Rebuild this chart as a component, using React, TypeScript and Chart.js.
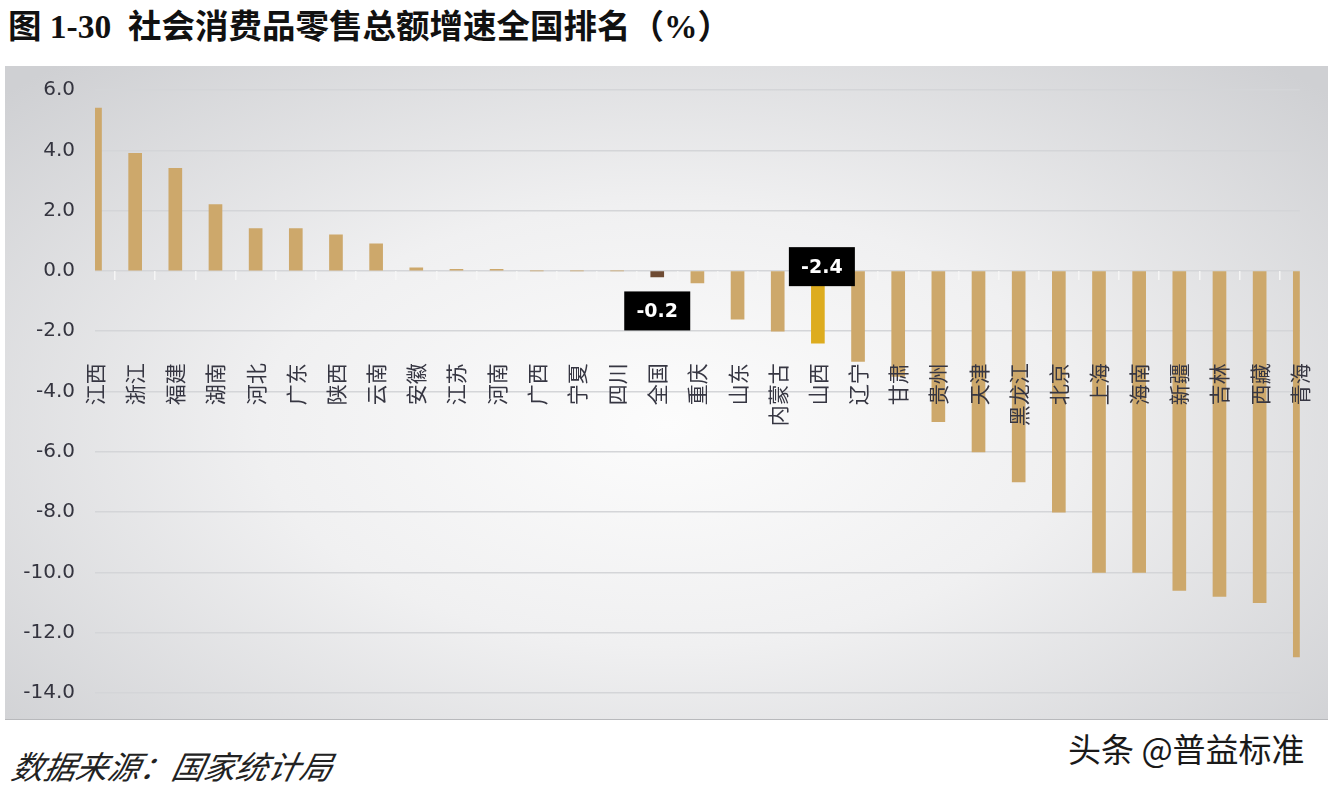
import React, { useEffect, useRef } from 'react';
import { Chart, registerables } from 'chart.js';

Chart.register(...registerables);

// ---- Data ----
const categories: string[] = [
  '江西', '浙江', '福建', '湖南', '河北', '广东', '陕西', '云南', '安徽', '江苏',
  '河南', '广西', '宁夏', '四川', '全国', '重庆', '山东', '内蒙古', '山西', '辽宁',
  '甘肃', '贵州', '天津', '黑龙江', '北京', '上海', '海南', '新疆', '吉林', '西藏', '青海',
];
const growth: number[] = [
  5.4, 3.9, 3.4, 2.2, 1.4, 1.4, 1.2, 0.9, 0.1, 0.05,
  0.05, 0, 0, 0, -0.2, -0.4, -1.6, -2.0, -2.4, -3.0,
  -3.5, -5.0, -6.0, -7.0, -8.0, -10.0, -10.0, -10.6, -10.8, -11.0, -12.8,
];
const labeledCategories: string[] = ['全国', '山西'];
const labelPlacement: string[] = ['below', 'above'];
const yMin = -14;
const yMax = 6;
const yStep = 2;

const BAR = '#CDA86B';
const NATIONAL = '#6E4B33';
const SHANXI = '#DDAC1F';

const valueLabelPlugin = {
  id: 'valueLabels',
  afterDraw(chart: any) {
    const meta = chart.getDatasetMeta(0);
    const ctx = chart.ctx;
    labeledCategories.forEach((name, k) => {
      const i = categories.indexOf(name);
      const el: any = meta.data[i];
      if (!el) return;
      const text = growth[i].toFixed(1);
      const w = 66;
      const h = 39;
      let cx = el.x;
      let cy: number;
      if (labelPlacement[k] === 'below') {
        cy = el.y + 34;
      } else {
        cx = el.x + 4;
        cy = el.base - 5;
      }
      ctx.save();
      ctx.fillStyle = '#000000';
      ctx.fillRect(cx - w / 2, cy - h / 2, w, h);
      ctx.fillStyle = '#ffffff';
      ctx.font = 'bold 19px "DejaVu Sans", sans-serif';
      ctx.textAlign = 'center';
      ctx.textBaseline = 'middle';
      ctx.fillText(text, cx, cy + 1);
      ctx.restore();
    });
  },
};

export default function App() {
  const ref = useRef<HTMLCanvasElement>(null);

  useEffect(() => {
    if (!ref.current) return;
    const colors = categories.map((c) => (c === '全国' ? NATIONAL : c === '山西' ? SHANXI : BAR));
    const chart = new Chart(ref.current, {
      type: 'bar',
      data: {
        labels: categories,
        datasets: [
          {
            data: growth,
            backgroundColor: colors,
            borderWidth: 0,
            barThickness: 13,
          },
        ],
      },
      plugins: [valueLabelPlugin],
      options: {
        responsive: false,
        animation: false,
        layout: { padding: { left: 10, right: 15, top: 24, bottom: 27 } },
        plugins: {
          legend: { display: false },
          tooltip: { enabled: false },
          title: { display: false },
        },
        scales: {
          y: {
            min: yMin,
            max: yMax,
            afterFit: (s: any) => {
              s.width = 80;
            },
            ticks: {
              stepSize: yStep,
              padding: 0,
              color: '#34343f',
              font: { family: '"DejaVu Sans", sans-serif', size: 20 },
              callback: (v: any) => Number(v).toFixed(1),
            },
            grid: {
              color: '#d4d5d8',
              lineWidth: 1.5,
              drawTicks: true,
              tickLength: 20,
              tickColor: 'rgba(0,0,0,0)',
            },
            border: { display: false },
          },
          x: {
            type: 'category',
            offset: false,
            position: { y: -2.7 } as any,
            grid: { display: false },
            border: { display: false },
            ticks: {
              z: 2,
              autoSkip: false,
              minRotation: 90,
              maxRotation: 90,
              padding: 3,
              color: '#363642',
              font: { family: '"Noto Sans CJK SC", sans-serif', size: 21 },
            },
          },
          x2: {
            type: 'category',
            offset: false,
            position: { y: 0 } as any,
            ticks: { display: false },
            grid: {
              z: 1,
              drawOnChartArea: false,
              drawTicks: true,
              tickLength: 9,
              color: 'rgba(245,245,245,0.95)',
              lineWidth: 1.5,
            },
            border: { display: false },
          },
        },
      } as any,
    });
    return () => chart.destroy();
  }, []);

  return (
    <div
      style={{
        position: 'fixed',
        left: 0,
        top: 0,
        width: 1336,
        height: 788,
        background: '#ffffff',
        overflow: 'hidden',
      }}
    >
      <div
        style={{
          position: 'absolute',
          left: 8,
          top: -1,
          font: 'bold 33.5px "Liberation Serif", "Noto Sans CJK SC", serif',
          color: '#111111',
          whiteSpace: 'pre',
        }}
      >
        {'图 1-30  社会消费品零售总额增速全国排名（%）'}
      </div>
      <div
        style={{
          position: 'absolute',
          left: 5,
          top: 66,
          width: 1323,
          height: 654,
          background:
            'radial-gradient(ellipse 68% 75% at 50% 55%, #fcfcfc 0%, #f0f0f1 45%, #cfd0d3 100%)',
          borderBottom: '1px solid #b8b9bc',
          boxSizing: 'border-box',
        }}
      >
        <canvas ref={ref} width={1323} height={654} style={{ display: 'block' }} />
      </div>
      <div
        style={{
          position: 'absolute',
          left: 8,
          top: 742,
          font: 'italic 32px "Noto Sans CJK SC", sans-serif',
          color: '#222222',
          whiteSpace: 'nowrap',
          transform: 'skewX(-12deg)',
          transformOrigin: 'left bottom',
        }}
      >
        数据来源：国家统计局
      </div>
      <div
        style={{
          position: 'absolute',
          left: 1068,
          top: 724,
          font: '33px "Noto Sans CJK SC", sans-serif',
          color: '#1a1a1a',
          whiteSpace: 'nowrap',
        }}
      >
        头条 @普益标准
      </div>
    </div>
  );
}
